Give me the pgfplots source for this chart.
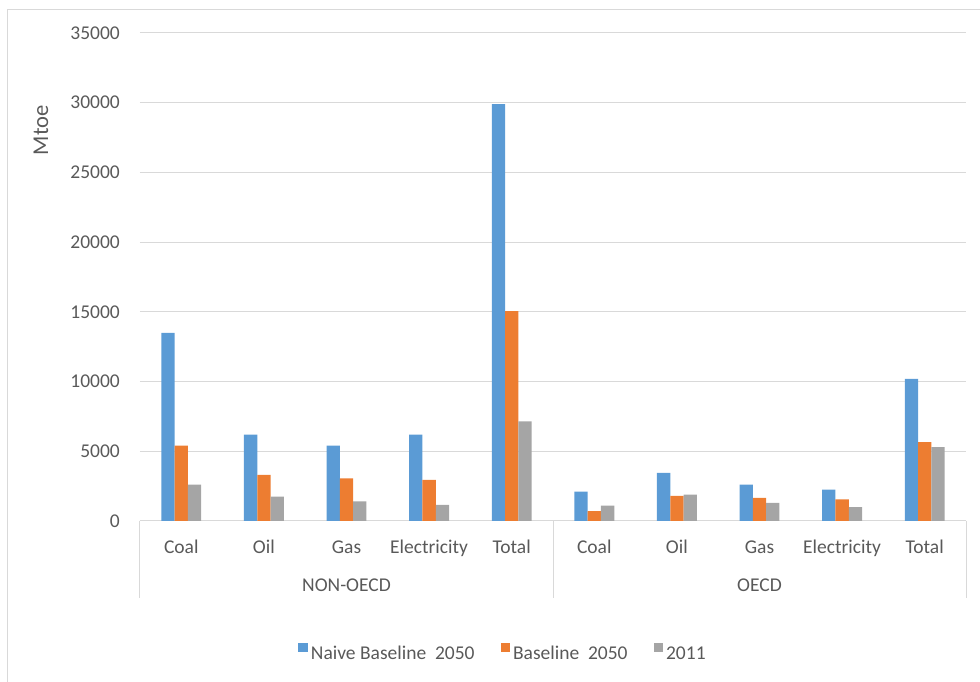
\documentclass[border=0pt]{standalone}
\usepackage{pgfplots}
\pgfplotsset{compat=1.18}
\usepackage{fontspec}
\setmainfont{Carlito}
\definecolor{cblue}{HTML}{5B9BD5}
\definecolor{corange}{HTML}{ED7D31}
\definecolor{cgray}{HTML}{A5A5A5}
\definecolor{txt}{HTML}{595959}
\definecolor{gridc}{HTML}{D9D9D9}
\newcommand\fs{\fontsize{19.5}{23.4}\selectfont}
\newcommand\fl{\fontsize{22.6}{27}\selectfont}
\pgfplotsset{sq/.style={legend image code/.code={\fill[##1] (0pt,1pt) rectangle (9.5pt,10.5pt);}}}
\begin{document}
\begin{tikzpicture}
\begin{axis}[
  scale only axis, width=826pt, height=488pt,
  ybar=0pt, bar width=13.3pt,
  xmin=-0.5, xmax=9.5, ymin=0, ymax=35000,
  enlargelimits=false, clip=false,
  ytick={0,5000,...,35000},
  xtick={0,...,9},
  xticklabels={Coal,Oil,Gas,Electricity,Total,Coal,Oil,Gas,Electricity,Total},
  scaled y ticks=false,
  /pgf/number format/1000 sep={},
  /pgf/number format/assume math mode=true,
  axis x line*=bottom, axis y line*=left,
  x axis line style={draw=gridc, line width=1pt},
  y axis line style={draw=none},
  major tick length=0pt,
  ymajorgrids, grid style={draw=gridc, line width=1pt},
  tick label style={font=\fs, text=txt},
  yticklabel style={anchor=east, inner sep=0pt, xshift=-20pt},
  xticklabel style={anchor=base, inner sep=0pt, yshift=-32pt},
  legend columns=3,
  legend style={at={(axis description cs:0.4395,-0.2705)}, anchor=center,
    draw=none, fill=none, font=\fs, text=txt,
    /tikz/every odd column/.append style={column sep=1pt},
    /tikz/every even column/.append style={column sep=24pt}},
]
\addplot[fill=cblue, draw=none, sq] coordinates
  {(0,13500) (1,6200) (2,5400) (3,6200) (4,29900) (5,2100) (6,3450) (7,2600) (8,2250) (9,10200)};
\addplot[fill=corange, draw=none, sq] coordinates
  {(0,5400) (1,3300) (2,3050) (3,2950) (4,15050) (5,700) (6,1800) (7,1650) (8,1550) (9,5650)};
\addplot[fill=cgray, draw=none, sq] coordinates
  {(0,2600) (1,1750) (2,1400) (3,1150) (4,7150) (5,1100) (6,1900) (7,1300) (8,1000) (9,5300)};
\legend{Naive Baseline\ \ 2050, Baseline\ \ 2050, 2011}
\draw[gridc, line width=1pt] (axis cs:-0.5,0) -- ++(0pt,-77pt);
\draw[gridc, line width=1pt] (axis cs:4.5,0) -- ++(0pt,-77pt);
\draw[gridc, line width=1pt] (axis cs:9.5,0) -- ++(0pt,-77pt);
\node[anchor=base, font=\fs, text=txt, yshift=-70pt] at (axis cs:2,0) {NON-OECD};
\node[anchor=base, font=\fs, text=txt, yshift=-70pt] at (axis cs:7,0) {OECD};
\node[rotate=90, font=\fl, text=txt, inner sep=0pt] at ([xshift=-99pt]rel axis cs:0,0.801) {Mtoe};
\end{axis}
\draw[gridc, line width=1pt] (-132pt,-161pt) -- (-132pt,511pt) -- (840pt,511pt);
\pgfresetboundingbox
\path (-140pt,-161pt) rectangle (840pt,521pt);
\end{tikzpicture}
\end{document}
